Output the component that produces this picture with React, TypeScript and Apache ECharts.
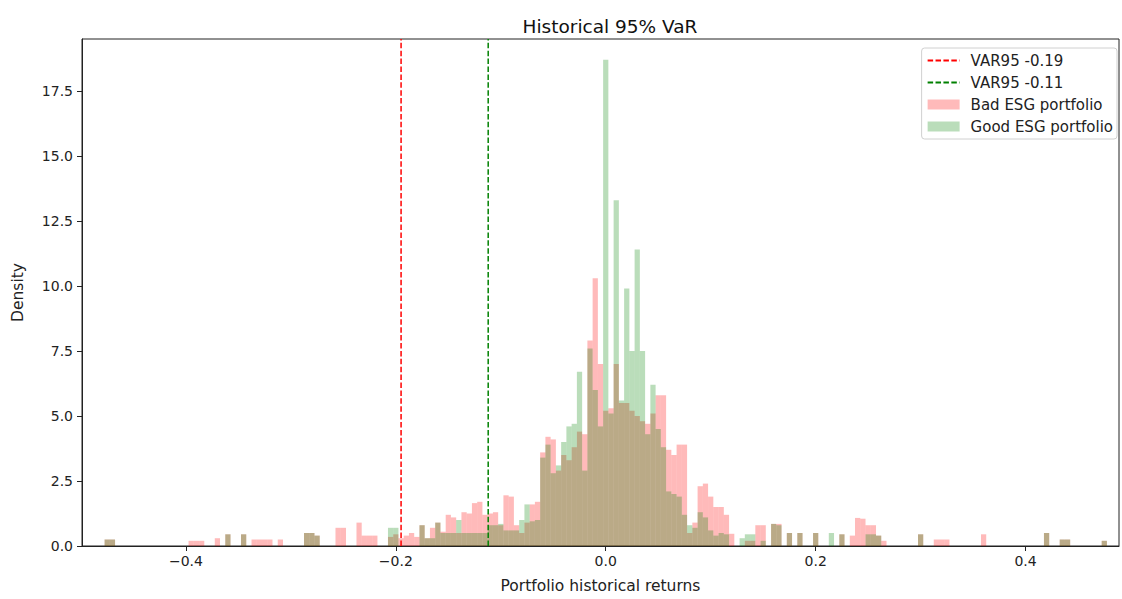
import React, { useEffect, useRef } from "react";
import * as echarts from "echarts";

// ---- data ----
const BIN = 0.005;
const CENTRAL_START = -0.2; // centre of first central bin
const badCentral = [
  0.45, 0.3, 0.4, 0.5, 0.35, 0.8, 0.3, 0.7, 0.9, 0.55,
  1.2, 1.1, 0.5, 1.3, 1.25, 1.65, 1.7, 1.2, 1.25, 1.3,
  0.8, 1.95, 1.9, 0.8, 0.5, 0.9, 1.6, 1.7, 3.6, 4.2,
  4.1, 2.9, 3.5, 3.3, 3.8, 4.4, 4.3, 7.9, 10.3, 7.0,
  5.2, 5.3, 7.0, 5.5, 5.5, 5.2, 5.0, 4.8, 4.7, 5.1,
  5.8, 5.8, 3.7, 3.5, 3.9, 3.9, 0.5, 0.9, 2.3, 2.4,
  1.9, 1.5, 1.5, 1.2, 0.47, 0, 0, 0.2, 0.2, 0.8,
  0.8,
];
const goodCentral = [
  0.7, 0, 0, 0, 0, 0.8, 0.3, 0.3, 0.9, 0.5,
  0.5, 0.5, 1.0, 0.5, 0.5, 0.5, 0.5, 0.5, 0.8, 0.8,
  0.85, 0.6, 0.6, 0.6, 1.0, 1.6, 0.95, 1.0, 3.4, 3.9,
  2.8, 3.1, 4.0, 4.6, 4.7, 6.7, 2.9, 7.6, 6.0, 4.6,
  18.7, 5.1, 13.3, 5.6, 9.9, 7.5, 11.4, 7.5, 4.3, 6.2,
  4.5, 3.8, 2.1, 2.0, 1.9, 1.2, 0.8, 0.7, 1.3, 1.1,
  0.6, 0.4, 0.5, 0.45, 0, 0, 0.3, 0.45, 0.45, 0,
  0.2,
];
const badLeftTail: [number, number][] = [
  [-0.475, 0.25], [-0.47, 0.25], [-0.395, 0.2], [-0.39, 0.2], [-0.385, 0.2],
  [-0.37, 0.3], [-0.36, 0.45], [-0.345, 0.45], [-0.335, 0.25], [-0.33, 0.25],
  [-0.325, 0.25], [-0.32, 0.25], [-0.31, 0.25], [-0.285, 0.5], [-0.28, 0.5],
  [-0.275, 0.4], [-0.255, 0.7], [-0.25, 0.7], [-0.235, 0.9], [-0.23, 0.4],
  [-0.225, 0.4], [-0.22, 0.4], [-0.205, 0.35],
];
const goodLeftTail: [number, number][] = [
  [-0.475, 0.25], [-0.47, 0.25], [-0.36, 0.45], [-0.345, 0.45],
  [-0.285, 0.5], [-0.28, 0.5], [-0.275, 0.4], [-0.205, 0.7],
];
const badRightTail: [number, number][] = [
  [0.16, 0.85], [0.165, 0.85], [0.175, 0.5], [0.185, 0.5], [0.2, 0.5],
  [0.225, 0.45], [0.235, 0.4], [0.24, 1.08], [0.245, 1.05], [0.25, 0.8],
  [0.255, 0.8], [0.26, 0.4], [0.265, 0.2], [0.3, 0.45], [0.315, 0.25],
  [0.32, 0.25], [0.325, 0.25], [0.36, 0.45], [0.42, 0.5], [0.435, 0.25],
  [0.44, 0.25], [0.475, 0.2],
];
const goodRightTail: [number, number][] = [
  [0.16, 0.85], [0.165, 0.8], [0.175, 0.5], [0.185, 0.5], [0.2, 0.5],
  [0.215, 0.5], [0.225, 0.45], [0.25, 0.45], [0.255, 0.45], [0.26, 0.4],
  [0.3, 0.45], [0.42, 0.5], [0.435, 0.25], [0.44, 0.25], [0.475, 0.2],
];
const VAR_BAD = -0.195;
const VAR_GOOD = -0.112;
const VAR_BAD_LABEL = "VAR95 -0.19";
const VAR_GOOD_LABEL = "VAR95 -0.11";
const xTicks = [-0.4, -0.2, 0, 0.2, 0.4];
const yTicks = [0, 2.5, 5, 7.5, 10, 12.5, 15, 17.5];
const X_MIN = -0.499;
const X_MAX = 0.489;
const Y_MAX = 19.5;

// ---- helpers ----
function buildBins(central: number[], left: [number, number][], right: [number, number][]) {
  const pts: [number, number][] = [
    ...left,
    ...central.map((h, i) => [CENTRAL_START + i * BIN, h] as [number, number]),
    ...right,
  ];
  return pts
    .filter((p) => p[1] > 0)
    .map(([c, h]) => [c - BIN / 2, c + BIN / 2, h]);
}

function renderHist(params: any, api: any) {
  const x0 = api.value(0);
  const x1 = api.value(1);
  const h = api.value(2);
  const a = api.coord([x0, h]);
  const b = api.coord([x1, 0]);
  return {
    type: "rect",
    shape: { x: a[0], y: a[1], width: b[0] - a[0], height: b[1] - a[1] },
    style: { fill: api.visual("color") },
  };
}

const FONT = "DejaVu Sans";
const fmt = (v: number) => {
  const s = Math.abs(v).toFixed(1);
  return v < 0 ? "\u2212" + s : s;
};

export default function App() {
  const ref = useRef<HTMLDivElement>(null);
  useEffect(() => {
    const chart = echarts.init(ref.current!, null, { renderer: "svg" });
    const option: any = {
      animation: false,
      backgroundColor: "#fff",
      textStyle: { fontFamily: FONT },
      title: {
        text: "Historical 95% VaR",
        left: 605,
        top: 12,
        textAlign: "center",
        textStyle: { fontFamily: FONT, fontSize: 18.5, fontWeight: "normal", color: "#111" },
      },
      grid: {
        left: 82,
        right: 3,
        top: 39,
        bottom: 47,
        show: true,
        borderColor: "#222",
        borderWidth: 1,
      },
      legend: {
        orient: "vertical",
        right: 5,
        top: 48,
        padding: [5, 4, 5, 5],
        itemGap: 7,
        itemWidth: 32,
        itemHeight: 10,
        backgroundColor: "#fff",
        borderColor: "#d0d0d0",
        borderWidth: 1,
        borderRadius: 3,
        textStyle: { fontFamily: FONT, fontSize: 15, color: "#222", padding: [0, 0, 0, 6] },
        data: [
          { name: VAR_BAD_LABEL, itemStyle: { opacity: 0 } },
          { name: VAR_GOOD_LABEL, itemStyle: { opacity: 0 } },
          { name: "Bad ESG portfolio", icon: "rect" },
          { name: "Good ESG portfolio", icon: "rect" },
        ],
      },
      xAxis: {
        type: "value",
        min: X_MIN,
        max: X_MAX,
        name: "Portfolio historical returns",
        nameLocation: "middle",
        nameGap: 32,
        nameTextStyle: { fontFamily: FONT, fontSize: 15.5, color: "#222" },
        axisLine: { show: true, onZero: false, lineStyle: { color: "#222" } },
        axisTick: { show: true, length: 5, customValues: xTicks, lineStyle: { color: "#222" } },
        axisLabel: {
          customValues: xTicks,
          formatter: fmt,
          margin: 8,
          fontFamily: FONT,
          fontSize: 14,
          color: "#222",
        },
        splitLine: { show: false },
      },
      yAxis: {
        type: "value",
        min: 0,
        max: Y_MAX,
        name: "Density",
        nameLocation: "middle",
        nameGap: 56,
        nameTextStyle: { fontFamily: FONT, fontSize: 15.5, color: "#222" },
        axisLine: { show: true, onZero: false, lineStyle: { color: "#222" } },
        axisTick: { show: true, length: 5, customValues: yTicks, lineStyle: { color: "#222" } },
        axisLabel: {
          customValues: yTicks,
          formatter: (v: number) => v.toFixed(1),
          margin: 9,
          fontFamily: FONT,
          fontSize: 14,
          color: "#222",
        },
        splitLine: { show: false },
      },
      series: [
        {
          name: "Bad ESG portfolio",
          type: "custom",
          renderItem: renderHist,
          itemStyle: { color: "rgba(255,0,0,0.27)" },
          encode: { x: [0, 1], y: 2 },
          data: buildBins(badCentral, badLeftTail, badRightTail),
          z: 2,
        },
        {
          name: "Good ESG portfolio",
          type: "custom",
          renderItem: renderHist,
          itemStyle: { color: "rgba(0,128,0,0.27)" },
          encode: { x: [0, 1], y: 2 },
          data: buildBins(goodCentral, goodLeftTail, goodRightTail),
          z: 3,
        },
        {
          name: VAR_BAD_LABEL,
          type: "line",
          symbol: "none",
          data: [[VAR_BAD, 0], [VAR_BAD, Y_MAX]],
          lineStyle: { color: "#ff0000", width: 1.5, type: [5.5, 2.4] },
          itemStyle: { color: "#ff0000" },
          z: 4,
        },
        {
          name: VAR_GOOD_LABEL,
          type: "line",
          symbol: "none",
          data: [[VAR_GOOD, 0], [VAR_GOOD, Y_MAX]],
          lineStyle: { color: "#008000", width: 1.5, type: [5.5, 2.4] },
          itemStyle: { color: "#008000" },
          z: 4,
        },
      ],
    };
    chart.setOption(option);
    return () => chart.dispose();
  }, []);
  return (
    <div
      ref={ref}
      style={{ position: "absolute", left: 0, top: 0, width: 1122, height: 599 }}
    />
  );
}
